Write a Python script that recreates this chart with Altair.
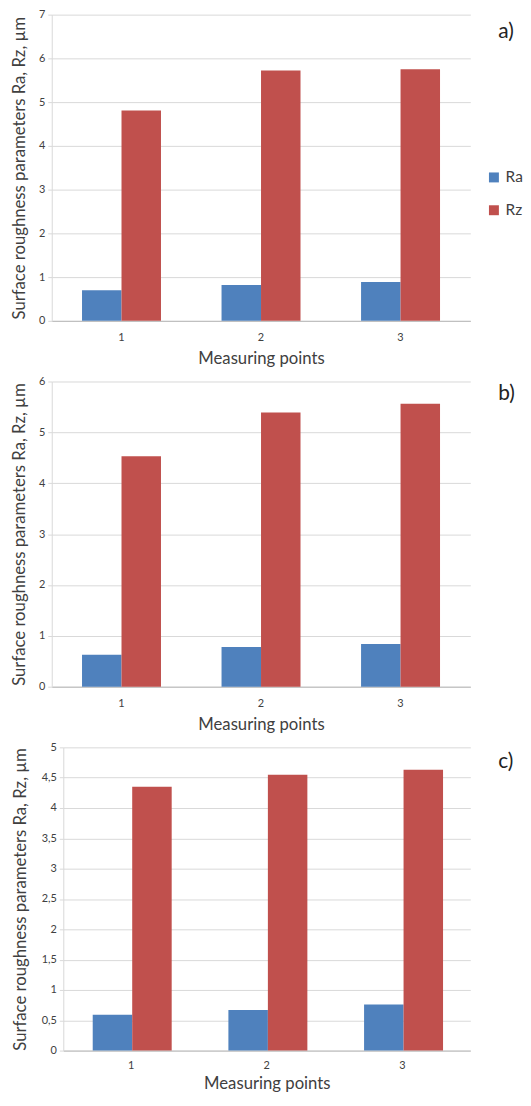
import altair as alt
import pandas as pd

FONT = "Lato"

points = ["1", "2", "3"]
series = ["Ra", "Rz"]
colors = ["#4F81BD", "#C0504D"]

ra_a = [0.70, 0.82, 0.89]
rz_a = [4.81, 5.72, 5.75]
ra_b = [0.63, 0.78, 0.84]
rz_b = [4.53, 5.39, 5.56]
ra_c = [0.59, 0.67, 0.76]
rz_c = [4.35, 4.55, 4.63]

ticks_a = [0, 1, 2, 3, 4, 5, 6, 7]
ticks_b = [0, 1, 2, 3, 4, 5, 6]
ticks_c = [0, 0.5, 1, 1.5, 2, 2.5, 3, 3.5, 4, 4.5, 5]

tags = ["a)", "b)", "c)"]
y_title = "Surface roughness parameters Ra, Rz, µm"
x_title = "Measuring points"

WIDTH = 421


def panel(ra, rz, ticks, tag, height, shift, tag_y, x_lab_pad, x_title_pad, y_title_pad):
    df = pd.DataFrame({
        "point": points * 2,
        "series": ["Ra"] * len(points) + ["Rz"] * len(points),
        "value": ra + rz,
    })
    x_scale = alt.Scale(paddingInner=0.434, paddingOuter=0.217)
    if shift:
        x_scale = alt.Scale(range=[shift, WIDTH], paddingInner=0.434, paddingOuter=0.217)
    y_axis_kw = dict(values=ticks, tickCount=len(ticks),
                     labelExpr="replace(toString(datum.value), '.', ',')",
                     gridColor="#d9d9d9", domainColor="#d9d9d9",
                     tickColor="#d9d9d9", tickSize=4,
                     labelFontSize=11, labelColor="#404040",
                     labelPadding=3, titleFontSize=16.8,
                     titleFontWeight="normal", titleColor="#404040",
                     titlePadding=y_title_pad)
    if shift:
        y_axis_kw["offset"] = -shift
    bars = alt.Chart(df).mark_bar().encode(
        x=alt.X("point:N", title=x_title, sort=points, scale=x_scale,
                axis=alt.Axis(labelAngle=0, ticks=False, grid=False,
                              domainColor="#b8b8b8", labelFontSize=11,
                              labelColor="#404040", labelPadding=x_lab_pad,
                              titleFontSize=16.8, titleFontWeight="normal",
                              titleColor="#404040", titlePadding=x_title_pad)),
        xOffset=alt.XOffset("series:N", sort=series,
                            scale=alt.Scale(paddingInner=0, paddingOuter=0)),
        y=alt.Y("value:Q", title=y_title,
                scale=alt.Scale(domain=[ticks[0], ticks[-1]], nice=False),
                axis=alt.Axis(**y_axis_kw)),
        color=alt.Color("series:N",
                        scale=alt.Scale(domain=series, range=colors),
                        legend=alt.Legend(title=None, orient="none",
                                          legendX=437, legendY=156,
                                          symbolType="square", symbolSize=100,
                                          symbolStrokeWidth=0,
                                          labelFontSize=15.5, labelColor="#404040",
                                          labelOffset=4, rowPadding=16)),
    )
    text = alt.Chart(pd.DataFrame({"t": [tag]})).mark_text(
        align="left", baseline="middle", fontSize=21, font=FONT, color="#222222"
    ).encode(text="t:N", x=alt.value(449), y=alt.value(tag_y))
    return alt.layer(bars, text).properties(width=WIDTH, height=height)


pa = panel(ra_a, rz_a, ticks_a, tags[0], 308, 0, 18, 11, 8, 10.5)
pb = panel(ra_b, rz_b, ticks_b, tags[1], 307, 0, 13, 11, 8, 10.5)
pc = panel(ra_c, rz_c, ticks_c, tags[2], 305, 11.6, 15, 9, 5, 12)

chart = alt.vconcat(pa, pb, pc, spacing=8).properties(
    padding={"left": 3, "top": -2.5, "right": 0, "bottom": 0}
).configure(font=FONT).configure_view(stroke=None)

chart.save("out.html", embed_options={"renderer": "svg", "actions": False})
